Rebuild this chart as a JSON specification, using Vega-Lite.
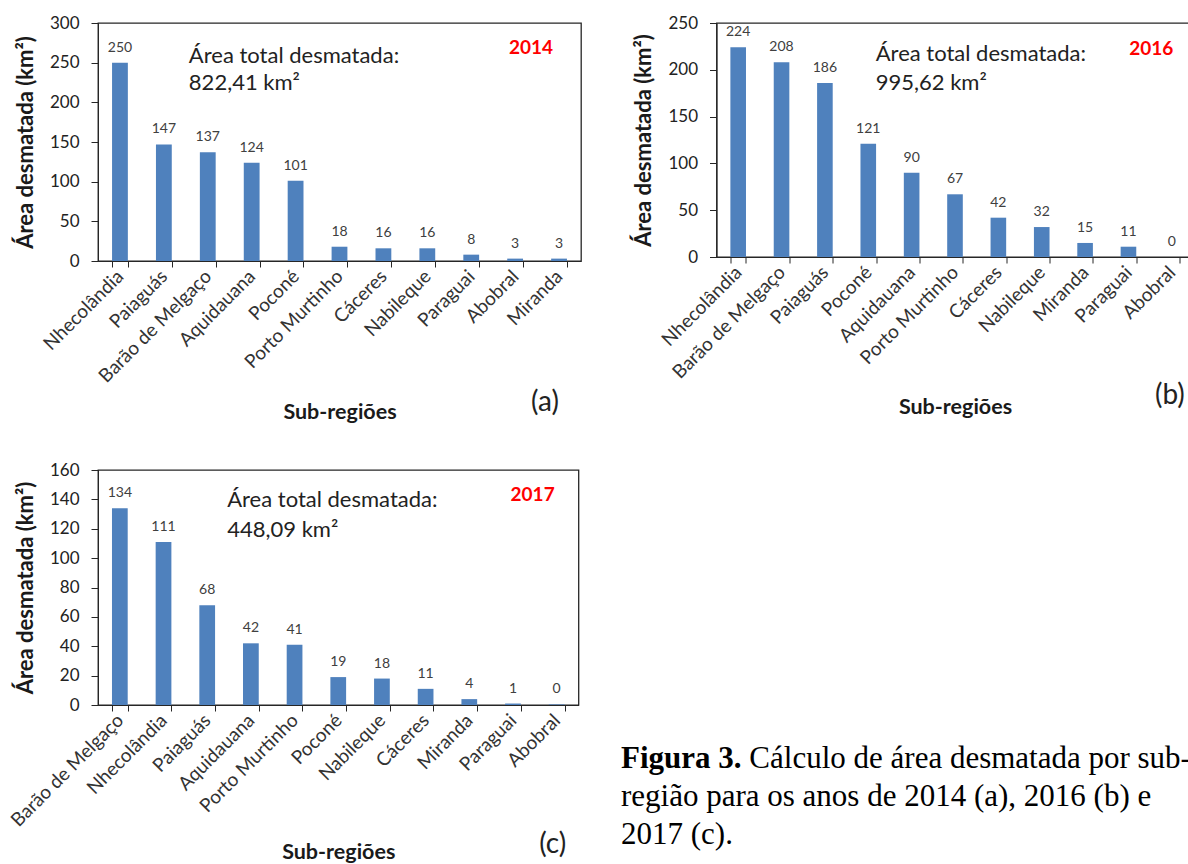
{
  "$schema": "https://vega.github.io/schema/vega-lite/v6.json",
  "padding": {"left": 6, "top": 13, "right": 0, "bottom": 0},
  "autosize": {"type": "pad"},
  "bounds": "flush",
  "spacing": 447,
  "config": {
    "font": "Lato",
    "view": {"stroke": "#262626", "strokeWidth": 1.3},
    "axis": {"grid": false, "domainColor": "#262626", "tickColor": "#262626", "labelColor": "#222222", "titleColor": "#1a1a1a", "labelFont": "Lato", "titleFont": "Lato"},
    "axisY": {"tickSize": 7, "labelPadding": 12, "labelFontSize": 17, "titleFontSize": 22, "titleFontWeight": "bold", "titlePadding": 12},
    "axisX": {"tickBand": "extent", "tickSize": 6, "labelAngle": -45, "labelAlign": "right", "labelBaseline": "middle", "labelFontSize": 19, "labelColor": "#333333", "labelPadding": 6, "titleFontSize": 21.5, "titleFontWeight": "bold", "titlePadding": 15},
    "bar": {"color": "#4F81BD"}
  },
  "datasets": {
    "a": [
      {"cat": "Nhecolândia", "v": 250},
      {"cat": "Paiaguás", "v": 147},
      {"cat": "Barão de Melgaço", "v": 137},
      {"cat": "Aquidauana", "v": 124},
      {"cat": "Poconé", "v": 101},
      {"cat": "Porto Murtinho", "v": 18},
      {"cat": "Cáceres", "v": 16},
      {"cat": "Nabileque", "v": 16},
      {"cat": "Paraguai", "v": 8},
      {"cat": "Abobral", "v": 3},
      {"cat": "Miranda", "v": 3}
    ],
    "b": [
      {"cat": "Nhecolândia", "v": 224},
      {"cat": "Barão de Melgaço", "v": 208},
      {"cat": "Paiaguás", "v": 186},
      {"cat": "Poconé", "v": 121},
      {"cat": "Aquidauana", "v": 90},
      {"cat": "Porto Murtinho", "v": 67},
      {"cat": "Cáceres", "v": 42},
      {"cat": "Nabileque", "v": 32},
      {"cat": "Miranda", "v": 15},
      {"cat": "Paraguai", "v": 11},
      {"cat": "Abobral", "v": 0}
    ],
    "c": [
      {"cat": "Barão de Melgaço", "v": 134},
      {"cat": "Nhecolândia", "v": 111},
      {"cat": "Paiaguás", "v": 68},
      {"cat": "Aquidauana", "v": 42},
      {"cat": "Porto Murtinho", "v": 41},
      {"cat": "Poconé", "v": 19},
      {"cat": "Nabileque", "v": 18},
      {"cat": "Cáceres", "v": 11},
      {"cat": "Miranda", "v": 4},
      {"cat": "Paraguai", "v": 1},
      {"cat": "Abobral", "v": 0.4}
    ],
    "a_notes": [
      {"cat": "Paiaguás", "v": 259, "t": "Área total desmatada:"},
      {"cat": "Paiaguás", "v": 225, "t": "822,41 km²"}
    ],
    "b_notes": [
      {"cat": "Poconé", "v": 216.6, "t": "Área total desmatada:"},
      {"cat": "Poconé", "v": 185.6, "t": "995,62 km²"}
    ],
    "c_notes": [
      {"cat": "Paiaguás", "v": 139.5, "t": "Área total desmatada:"},
      {"cat": "Paiaguás", "v": 119, "t": "448,09 km²"}
    ],
    "caption_bold": [
      {"col": 0, "line": 1, "t": "Figura 3."}
    ],
    "caption": [
      {"col": 22.6, "line": 1, "t": "Cálculo de área desmatada por sub-"},
      {"col": 0, "line": 2, "t": "região para os anos de 2014 (a), 2016 (b) e"},
      {"col": 0, "line": 3, "t": "2017 (c)."}
    ]
  },
  "vconcat": [
    {
      "bounds": "flush",
      "spacing": 135.5,
      "hconcat": [
        {
          "width": 483,
          "height": 238,
          "encoding": {
            "x": {"field": "cat", "type": "nominal", "scale": {"domain": ["Nhecolândia", "Paiaguás", "Barão de Melgaço", "Aquidauana", "Poconé", "Porto Murtinho", "Cáceres", "Nabileque", "Paraguai", "Abobral", "Miranda"], "paddingInner": 0.64, "paddingOuter": 0.32}, "axis": {"title": "Sub-regiões"}},
            "y": {"field": "v", "type": "quantitative", "scale": {"domain": [0, 300], "nice": false}, "axis": {"title": "Área desmatada (km²)", "values": [0, 50, 100, 150, 200, 250, 300]}}
          },
          "layer": [
            {"data": {"name": "a"}, "mark": {"type": "bar"}},
            {"data": {"name": "a"}, "mark": {"type": "text", "baseline": "alphabetic", "dy": -11, "fontSize": 14, "color": "#404040"}, "encoding": {"text": {"field": "v", "type": "quantitative", "format": ".0f"}}},
            {"data": {"name": "a_notes"}, "mark": {"type": "text", "align": "left", "dx": 25, "fontSize": 22, "color": "#222222"}, "encoding": {"text": {"field": "t"}}},
            {"data": {"values": [{"cat": "Miranda", "v": 269, "t": "2014"}]}, "mark": {"type": "text", "align": "right", "dx": -6, "fontSize": 19, "fontWeight": "bold", "color": "#FF0000"}, "encoding": {"text": {"field": "t"}}},
            {"data": {"values": [{"cat": "Miranda", "v": -179, "t": "(a)"}]}, "mark": {"type": "text", "align": "center", "dx": -14, "fontSize": 28, "color": "#222222"}, "encoding": {"text": {"field": "t"}}}
          ]
        },
        {
          "width": 477,
          "height": 234,
          "encoding": {
            "x": {"field": "cat", "type": "nominal", "scale": {"domain": ["Nhecolândia", "Barão de Melgaço", "Paiaguás", "Poconé", "Aquidauana", "Porto Murtinho", "Cáceres", "Nabileque", "Miranda", "Paraguai", "Abobral"], "paddingInner": 0.64, "paddingOuter": 0.32}, "axis": {"title": "Sub-regiões", "titlePadding": 14}},
            "y": {"field": "v", "type": "quantitative", "scale": {"domain": [0, 250], "nice": false}, "axis": {"title": "Área desmatada (km²)", "values": [0, 50, 100, 150, 200, 250]}}
          },
          "layer": [
            {"data": {"name": "b"}, "mark": {"type": "bar"}},
            {"data": {"name": "b"}, "mark": {"type": "text", "baseline": "alphabetic", "dy": -11, "fontSize": 14, "color": "#404040"}, "encoding": {"text": {"field": "v", "type": "quantitative", "format": ".0f"}}},
            {"data": {"name": "b_notes"}, "mark": {"type": "text", "align": "left", "dx": 7.5, "fontSize": 22, "color": "#222222"}, "encoding": {"text": {"field": "t"}}},
            {"data": {"values": [{"cat": "Abobral", "v": 222, "t": "2016"}]}, "mark": {"type": "text", "align": "right", "dx": 1.5, "fontSize": 19, "fontWeight": "bold", "color": "#FF0000"}, "encoding": {"text": {"field": "t"}}},
            {"data": {"values": [{"cat": "Abobral", "v": -149, "t": "(b)"}]}, "mark": {"type": "text", "align": "center", "dx": -2, "fontSize": 28, "color": "#222222"}, "encoding": {"text": {"field": "t"}}}
          ]
        }
      ]
    },
    {
      "bounds": "flush",
      "spacing": 42,
      "hconcat": [
        {
          "width": 480.5,
          "height": 235,
          "encoding": {
            "x": {"field": "cat", "type": "nominal", "scale": {"domain": ["Barão de Melgaço", "Nhecolândia", "Paiaguás", "Aquidauana", "Porto Murtinho", "Poconé", "Nabileque", "Cáceres", "Miranda", "Paraguai", "Abobral"], "paddingInner": 0.64, "paddingOuter": 0.32}, "axis": {"title": "Sub-regiões", "titlePadding": 11}},
            "y": {"field": "v", "type": "quantitative", "scale": {"domain": [0, 160], "nice": false}, "axis": {"title": "Área desmatada (km²)", "values": [0, 20, 40, 60, 80, 100, 120, 140, 160]}}
          },
          "layer": [
            {"data": {"name": "c"}, "mark": {"type": "bar"}},
            {"data": {"name": "c"}, "mark": {"type": "text", "baseline": "alphabetic", "dy": -11, "fontSize": 14, "color": "#404040"}, "encoding": {"text": {"field": "v", "type": "quantitative", "format": ".0f"}}},
            {"data": {"name": "c_notes"}, "mark": {"type": "text", "align": "left", "dx": 20, "fontSize": 22, "color": "#222222"}, "encoding": {"text": {"field": "t"}}},
            {"data": {"values": [{"cat": "Abobral", "v": 143, "t": "2017"}]}, "mark": {"type": "text", "align": "right", "dx": -2, "fontSize": 19, "fontWeight": "bold", "color": "#FF0000"}, "encoding": {"text": {"field": "t"}}},
            {"data": {"values": [{"cat": "Abobral", "v": -95, "t": "(c)"}]}, "mark": {"type": "text", "align": "center", "dx": -4, "fontSize": 28, "color": "#222222"}, "encoding": {"text": {"field": "t"}}}
          ]
        },
        {
          "width": 568,
          "height": 390,
          "view": {"stroke": null},
          "encoding": {
            "x": {"field": "col", "type": "quantitative", "scale": {"domain": [0, 100], "nice": false, "zero": false}, "axis": null},
            "y": {"field": "line", "type": "quantitative", "scale": {"domain": [-6.84, 3.42], "reverse": true, "nice": false, "zero": false}, "axis": null},
            "text": {"field": "t"}
          },
          "layer": [
            {"data": {"name": "caption_bold"}, "mark": {"type": "text", "align": "left", "baseline": "alphabetic", "font": "Liberation Serif", "fontSize": 31, "fontWeight": "bold", "color": "#000000", "clip": true}},
            {"data": {"name": "caption"}, "mark": {"type": "text", "align": "left", "baseline": "alphabetic", "font": "Liberation Serif", "fontSize": 31, "color": "#000000", "clip": true}}
          ]
        }
      ]
    }
  ]
}
